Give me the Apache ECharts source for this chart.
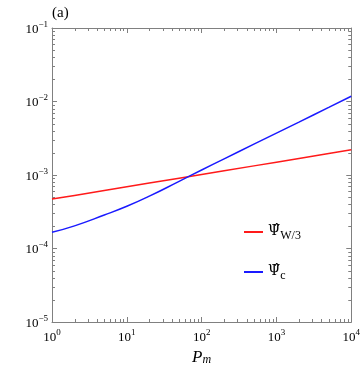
<html>

<head>
    <meta charset="utf-8" />
</head>

<body style="margin:0">
    <div id="chart" style="height:371px;width:363px">
    </div>
    <script src="https://cdn.jsdelivr.net/npm/echarts@6/dist/echarts.min.js"></script>
    <script>
        // P_m sample points
        var pm = [1, 2, 5, 10, 20, 50, 100, 200, 500, 1000, 2000, 5000, 10000];
        // red curve, Psi_W / 3 (straight in log-log)
        var psiW3 = [4.70e-4, 5.28e-4, 6.15e-4, 6.91e-4, 7.76e-4, 9.05e-4, 1.016e-3, 1.141e-3, 1.331e-3, 1.494e-3, 1.679e-3, 1.958e-3, 2.198e-3];
        // blue curve, Psi_c
        var psiC = [1.66e-4, 2.03e-4, 2.85e-4, 3.75e-4, 5.15e-4, 8.2e-4, 1.17e-3, 1.66e-3, 2.63e-3, 3.72e-3, 5.25e-3, 8.3e-3, 1.18e-2];

        var xRange = [1, 10000];
        var yRange = [1e-5, 1e-1];

        var serif = 'Liberation Serif';
        var frame = '#808080';

        // minor tick positions 2..9 per decade
        function minorTicks(lo, hi) {
            var out = [];
            for (var d = lo; d < hi; d *= 10) {
                for (var k = 2; k <= 9; k++) out.push(k * d);
            }
            return out;
        }
        var xMinor = minorTicks(xRange[0], xRange[1]).map(function (v) { return [v, 1e-3]; });
        var yMinor = minorTicks(yRange[0], yRange[1]).map(function (v) { return [10, v]; });

        function pow10(v) {
            var e = Math.round(Math.log10(v));
            return '{b|10}{sup|' + (e < 0 ? '\u2212' + (-e) : e) + '}';
        }
        var tickRich = {
            b: { fontFamily: serif, fontSize: 13, color: '#000', lineHeight: 16, verticalAlign: 'bottom' },
            sup: { fontFamily: serif, fontSize: 9, color: '#000', lineHeight: 16, verticalAlign: 'top' }
        };

        function lineEl(x1, y1, x2, y2) {
            return { type: 'line', shape: { x1: x1, y1: y1, x2: x2, y2: y2 }, style: { stroke: frame, lineWidth: 1 } };
        }

        var chart = echarts.init(document.getElementById('chart'));
        var option = {
            animation: false,
            title: {
                text: '(a)', left: 47, top: 1,
                textStyle: { fontFamily: serif, fontSize: 15, fontWeight: 'normal', color: '#000' }
            },
            grid: { left: 52, right: 11, top: 28, bottom: 44 },
            legend: {
                orient: 'vertical', left: 239, top: 219, itemGap: 22,
                itemWidth: 19, itemHeight: 2, icon: 'rect',
                data: ['W', 'c'],
                formatter: function (name) {
                    return name == 'W' ? '{p|\u03A8\u0302}{s|W/3}' : '{p|\u03A8\u0302}{s|c}';
                },
                textStyle: {
                    rich: {
                        p: { fontFamily: 'DejaVu Serif', fontSize: 14, color: '#000', lineHeight: 20, verticalAlign: 'bottom', padding: [0, 0, 4, 0] },
                        s: { fontFamily: serif, fontSize: 12, color: '#000', lineHeight: 20, verticalAlign: 'bottom' }
                    }
                }
            },
            xAxis: [{
                type: 'log', min: xRange[0], max: xRange[1],
                name: '{i|P}{s|m}', nameLocation: 'middle', nameGap: 24,
                nameTextStyle: {
                    rich: {
                        i: { fontFamily: serif, fontSize: 17, fontStyle: 'italic', color: '#000', lineHeight: 20, verticalAlign: 'bottom' },
                        s: { fontFamily: serif, fontSize: 12, fontStyle: 'italic', color: '#000', lineHeight: 20, verticalAlign: 'bottom' }
                    }
                },
                axisLine: { lineStyle: { color: frame } },
                axisTick: { inside: true, length: 5, lineStyle: { color: frame } },
                axisLabel: { formatter: pow10, rich: tickRich, margin: 6 },
                splitLine: { show: false }
            }, {
                type: 'log', min: xRange[0], max: xRange[1], position: 'top',
                axisLine: { lineStyle: { color: frame } },
                axisTick: { inside: true, length: 5, lineStyle: { color: frame } },
                axisLabel: { show: false },
                splitLine: { show: false }
            }],
            yAxis: [{
                type: 'log', min: yRange[0], max: yRange[1],
                axisLine: { show: true, lineStyle: { color: frame } },
                axisTick: { show: true, inside: true, length: 5, lineStyle: { color: frame } },
                axisLabel: { formatter: pow10, rich: tickRich, margin: 4 },
                splitLine: { show: false }
            }, {
                type: 'log', min: yRange[0], max: yRange[1], position: 'right',
                axisLine: { show: true, lineStyle: { color: frame } },
                axisTick: { show: true, inside: true, length: 5, lineStyle: { color: frame } },
                axisLabel: { show: false },
                splitLine: { show: false }
            }],
            series: [{
                name: 'W', type: 'line', showSymbol: false,
                color: '#ff1a1a', lineStyle: { width: 1.5 },
                data: pm.map(function (x, i) { return [x, psiW3[i]]; })
            }, {
                name: 'c', type: 'line', showSymbol: false, smooth: 0.5,
                color: '#1a1aff', lineStyle: { width: 1.5 },
                data: pm.map(function (x, i) { return [x, psiC[i]]; })
            }, {
                type: 'custom', silent: true, clip: false, data: xMinor,
                renderItem: function (params, api) {
                    var cs = params.coordSys;
                    var px = Math.round(api.coord([api.value(0), 1e-3])[0]) + 0.5;
                    var b = cs.y + cs.height;
                    return { type: 'group', children: [lineEl(px, b, px, b - 3), lineEl(px, cs.y, px, cs.y + 3)] };
                }
            }, {
                type: 'custom', silent: true, clip: false, data: yMinor,
                renderItem: function (params, api) {
                    var cs = params.coordSys;
                    var py = Math.round(api.coord([10, api.value(1)])[1]) + 0.5;
                    var r = cs.x + cs.width;
                    return { type: 'group', children: [lineEl(cs.x, py, cs.x + 3, py), lineEl(r, py, r - 3, py)] };
                }
            }]
        };
        chart.setOption(option);
    </script>
</body>

</html>
